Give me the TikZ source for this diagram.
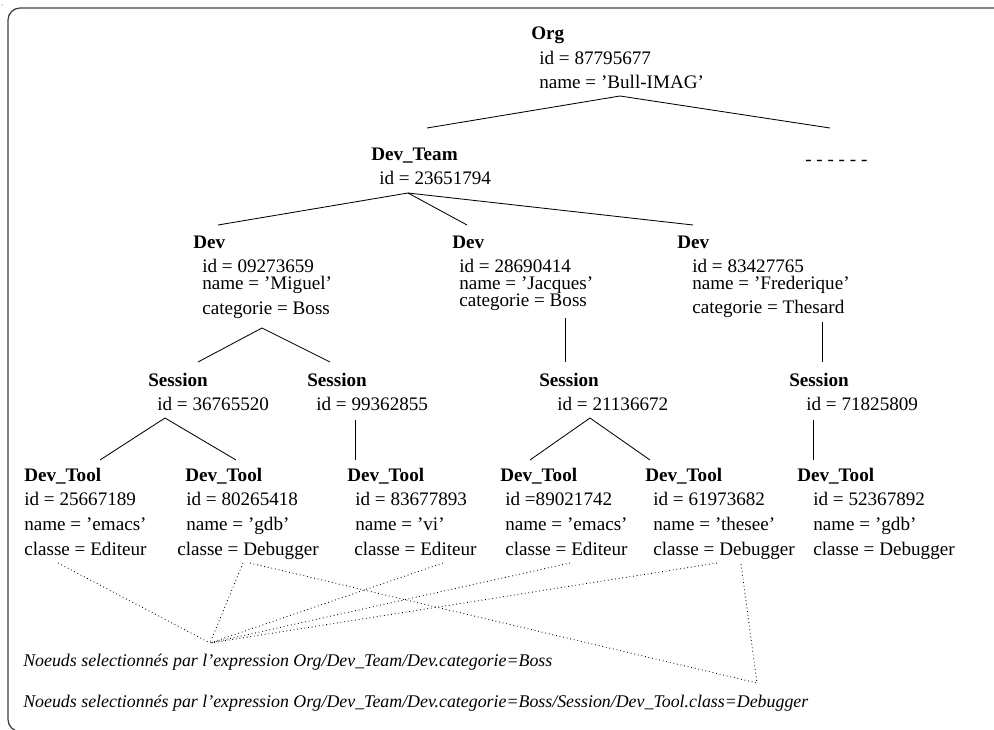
\documentclass[tikz,border=0pt]{standalone}
\usepackage{fontspec}
\setmainfont{Liberation Serif}
\usepackage{tikz}

\begin{document}
\begin{tikzpicture}[x=0.025cm,y=-0.025cm,font=\fontsize{13.6}{16}\selectfont]
\tikzstyle{every node}+=[inner sep=0pt]
\tikzstyle{lbl}=[anchor=base west]
\tikzstyle{ttl}=[anchor=base west,font=\fontsize{13.6}{16}\selectfont\bfseries]
\tikzstyle{sel}=[anchor=base west,font=\fontsize{12.7}{15}\selectfont\itshape]
\tikzstyle{edge}=[black,line width=0.6pt]
\tikzstyle{pick}=[black,dotted,line width=0.6pt]
\useasboundingbox (0,0) rectangle (994,730);
\clip (0,0) rectangle (994,730);
\draw [black!75,line width=0.9pt,rounded corners=0.3cm] (8,8) rectangle (1030,731.5);
\fill [black!60] (2,5) circle (0.6);
% root
\node [ttl] (org) at (531,39) {Org};
\node [lbl] (org-id) at (539,64) {id = 87795677};
\node [lbl] (org-name) at (539,88) {name = 'Bull-IMAG'};
% team
\node [ttl] (team) at (371,160) {Dev\_Team};
\node [lbl] (team-id) at (379,184) {id = 23651794};
\node [lbl] (more) at (805,165) {- - - - - -};
% developers
\node [ttl] (dev1) at (193,248) {Dev};
\node [lbl] (dev1-id) at (202,272) {id = 09273659};
\node [lbl] (dev1-name) at (202,289) {name = 'Miguel'};
\node [lbl] (dev1-cat) at (202,314) {categorie = Boss};
\node [ttl] (dev2) at (452,248) {Dev};
\node [lbl] (dev2-id) at (459,272) {id = 28690414};
\node [lbl] (dev2-name) at (459,289) {name = 'Jacques'};
\node [lbl] (dev2-cat) at (459,306.5) {categorie = Boss};
\node [ttl] (dev3) at (677,248) {Dev};
\node [lbl] (dev3-id) at (692,272) {id = 83427765};
\node [lbl] (dev3-name) at (692,289) {name = 'Frederique'};
\node [lbl] (dev3-cat) at (692,313) {categorie = Thesard};
% sessions
\node [ttl] (s1) at (148,386) {Session};
\node [lbl] (s1-id) at (157,410) {id = 36765520};
\node [ttl] (s2) at (307,386) {Session};
\node [lbl] (s2-id) at (316,410) {id = 99362855};
\node [ttl] (s3) at (539,386) {Session};
\node [lbl] (s3-id) at (557,410) {id = 21136672};
\node [ttl] (s4) at (789,386) {Session};
\node [lbl] (s4-id) at (806,410) {id = 71825809};
% tools
\node [ttl] (t1) at (24,481) {Dev\_Tool};
\node [lbl] (t1-id) at (24,505) {id = 25667189};
\node [lbl] (t1-name) at (24,530) {name = 'emacs'};
\node [lbl] (t1-cl) at (24,555) {classe = Editeur};
\node [ttl] (t2) at (185,481) {Dev\_Tool};
\node [lbl] (t2-id) at (186,505) {id = 80265418};
\node [lbl] (t2-name) at (186,530) {name = 'gdb'};
\node [lbl] (t2-cl) at (177,555) {classe = Debugger};
\node [ttl] (t3) at (347,481) {Dev\_Tool};
\node [lbl] (t3-id) at (355,505) {id = 83677893};
\node [lbl] (t3-name) at (355,530) {name = 'vi'};
\node [lbl] (t3-cl) at (354,555) {classe = Editeur};
\node [ttl] (t4) at (500,481) {Dev\_Tool};
\node [lbl] (t4-id) at (505,505) {id =89021742};
\node [lbl] (t4-name) at (505,530) {name = 'emacs'};
\node [lbl] (t4-cl) at (505,555) {classe = Editeur};
\node [ttl] (t5) at (645,481) {Dev\_Tool};
\node [lbl] (t5-id) at (653,505) {id = 61973682};
\node [lbl] (t5-name) at (653,530) {name = 'thesee'};
\node [lbl] (t5-cl) at (653,555) {classe = Debugger};
\node [ttl] (t6) at (797,481) {Dev\_Tool};
\node [lbl] (t6-id) at (813,505) {id = 52367892};
\node [lbl] (t6-name) at (813,530) {name = 'gdb'};
\node [lbl] (t6-cl) at (813,555) {classe = Debugger};
% selections
\node [sel] (sel1) at (23,666) {Noeuds selectionnés par l'expression Org/Dev\_Team/Dev.categorie=Boss};
\node [sel] (sel2) at (23,707) {Noeuds selectionnés par l'expression Org/Dev\_Team/Dev.categorie=Boss/Session/Dev\_Tool.class=Debugger};
% tree branch points
\coordinate (org-b) at (620,96);
\coordinate (team-t) at (427,128);
\coordinate (more-t) at (830,128);
\coordinate (team-b) at (408,193);
\coordinate (dev1-t) at (218,225);
\coordinate (dev2-t) at (467,225);
\coordinate (dev3-t) at (693,225);
\coordinate (dev1-b) at (262,328);
\coordinate (dev2-b) at (565,318);
\coordinate (dev3-b) at (822,322);
\coordinate (s1-t) at (198,362);
\coordinate (s2-t) at (330,362);
\coordinate (s3-t) at (565,362);
\coordinate (s4-t) at (822,362);
\coordinate (s1-b) at (165,418);
\coordinate (s2-b) at (355,420);
\coordinate (s3-b) at (590,418);
\coordinate (s4-b) at (813,420);
\coordinate (t1-t) at (100,460);
\coordinate (t2-t) at (236,460);
\coordinate (t3-t) at (355,460);
\coordinate (t4-t) at (530,460);
\coordinate (t5-t) at (650,460);
\coordinate (t6-t) at (813,460);
\draw [edge] (org-b) -- (team-t);
\draw [edge] (org-b) -- (more-t);
\draw [edge] (team-b) -- (dev1-t);
\draw [edge] (team-b) -- (dev2-t);
\draw [edge] (team-b) -- (dev3-t);
\draw [edge] (dev1-b) -- (s1-t);
\draw [edge] (dev1-b) -- (s2-t);
\draw [edge] (dev2-b) -- (s3-t);
\draw [edge] (dev3-b) -- (s4-t);
\draw [edge] (s1-b) -- (t1-t);
\draw [edge] (s1-b) -- (t2-t);
\draw [edge] (s2-b) -- (t3-t);
\draw [edge] (s3-b) -- (t4-t);
\draw [edge] (s3-b) -- (t5-t);
\draw [edge] (s4-b) -- (t6-t);
% dotted selection links
\coordinate (pick1) at (210,643);
\coordinate (pick2) at (757,683);
\coordinate (t1-p) at (58,563);
\coordinate (t2-p) at (243,563);
\coordinate (t2-q) at (250,563);
\coordinate (t3-p) at (443,563);
\coordinate (t4-p) at (570,563);
\coordinate (t5-p) at (717,563);
\coordinate (t5-q) at (741,564);
\draw [pick] (t1-p) -- (pick1);
\draw [pick] (t2-p) -- (pick1);
\draw [pick] (t3-p) -- (pick1);
\draw [pick] (t4-p) -- (pick1);
\draw [pick] (t5-p) -- (pick1);
\draw [pick] (t2-q) -- (pick2);
\draw [pick] (t5-q) -- (pick2);
\end{tikzpicture}
\end{document}
